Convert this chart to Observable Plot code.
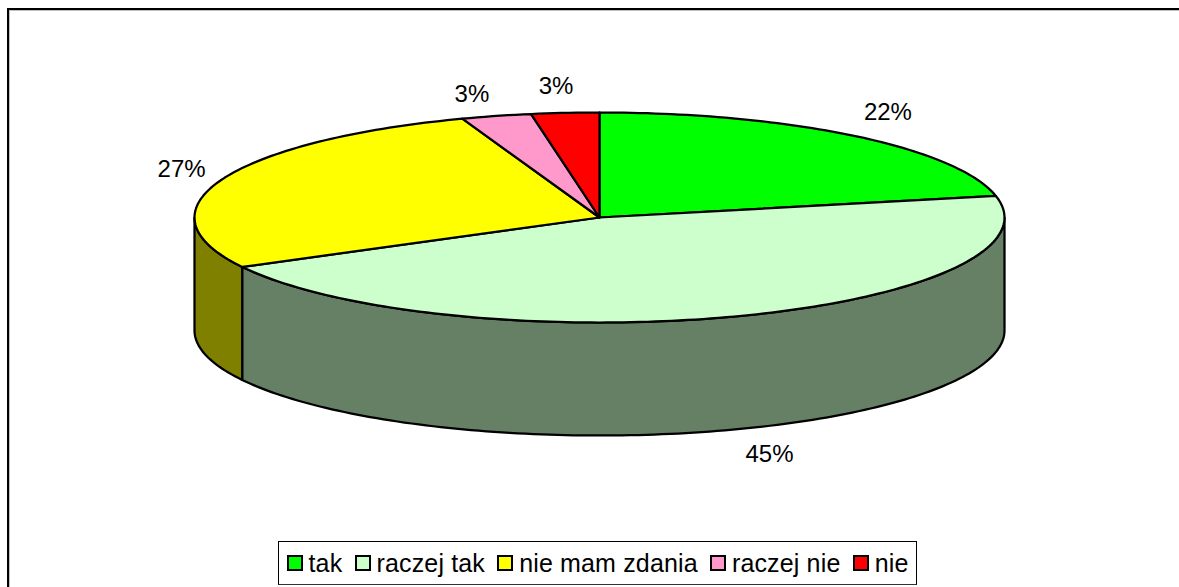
<!DOCTYPE html>
<html><head><meta charset="utf-8">
<script src="https://cdn.jsdelivr.net/npm/d3@7"></script>
<script src="https://cdn.jsdelivr.net/npm/@observablehq/plot@0.6"></script>
<style>
html,body{margin:0;padding:0;background:#fff;overflow:hidden}
#wrap{position:relative;width:1179px;height:587px;font-family:"Liberation Sans",Arial,sans-serif;overflow:hidden}
#frame{position:absolute;left:7px;top:8px;right:-4px;bottom:-4px;border:2px solid #000;box-sizing:border-box;box-shadow:inset 1px 1px 0 #c0c0c0}
#legend{position:absolute;left:278px;top:541px;width:639px;height:44px;box-sizing:border-box;border:1.5px solid #000;border-bottom-color:#333;background:#fff;
 display:flex;align-items:center;font-size:25px;letter-spacing:.15px;color:#000;white-space:pre;padding-left:7.5px}
#legend .sw{display:inline-block;width:16px;height:16px;border:2px solid #000;box-sizing:border-box;margin-right:6px}
#legend .it{display:flex;align-items:center;margin-right:12.2px}
</style></head><body><div id="wrap"><div id="chart"></div><div id="frame"></div><div id="legend"></div></div>
<script>
const categories = ["tak", "raczej tak", "nie mam zdania", "raczej nie", "nie"];
const shares = [21.7, 45.5, 27.3, 2.8, 2.7];
const labels = ["22%", "45%", "27%", "3%", "3%"];
const topColors = ["#00ff00", "#ccffcc", "#ffff00", "#ff99cc", "#ff0000"];
const sideColors = ["#008000", "#668066", "#808000", "#804c66", "#800000"];
const labelNudgeX = [0.012, 0.04, 0.005, -0.032, -0.013];
const labelNudgeY = [0.02, 0.01, 0, -0.048, -0.01];

// Unit pie: x in [-1,1] is the ellipse's half-width, y in [-1,1] its half-height.
const depth = 113 / 105;
const rad = p => p / 100 * 2 * Math.PI;
let acc = 0;
const slices = shares.map((s, i) => {
  const a0 = acc; acc += s;
  return {name: categories[i], a0: rad(a0), a1: rad(acc), i};
});
const arc = (a0, a1, dy = 0) => {
  const n = Math.max(2, Math.ceil((a1 - a0) / 0.02));
  return d3.range(n + 1).map(k => {
    const t = a0 + (a1 - a0) * k / n;
    return {x: Math.sin(t), y: Math.cos(t) - dy};
  });
};
const right = Math.PI / 2, left = 3 * Math.PI / 2;
const sides = slices.map(s => {
  const a0 = Math.max(s.a0, right), a1 = Math.min(s.a1, left);
  return a1 > a0 ? {...s, pts: [...arc(a0, a1), ...arc(a0, a1, depth).reverse()]} : null;
}).filter(Boolean);
const tops = slices.map(s => ({...s, pts: [{x: 0, y: 0}, ...arc(s.a0, s.a1)]}));
const labelData = slices.map(s => {
  const m = (s.a0 + s.a1) / 2;
  const extra = Math.cos(m) < -0.5 ? depth : 0;
  return {
    x: Math.sin(m) * 450 / 405 + labelNudgeX[s.i],
    y: Math.cos(m) * 133 / 105 - extra + labelNudgeY[s.i],
    text: labels[s.i]
  };
});

const poly = (s, fill) => Plot.line(s.pts, {x: "x", y: "y", fill, stroke: "#000", strokeWidth: 2.25,
  curve: "linear-closed", strokeLinejoin: "round"});

const plot = Plot.plot({
  width: 1179, height: 587, margin: 0,
  x: {domain: [-1, 1], range: [194, 1004], axis: null},
  y: {domain: [1, -1], range: [112, 322], axis: null},
  marks: [
    ...sides.map(s => poly(s, sideColors[s.i])),
    ...tops.map(s => poly(s, topColors[s.i])),
    Plot.text(labelData, {x: "x", y: "y", text: "text", fontSize: 24, fill: "#000",
      fontFamily: "Liberation Sans, Arial, sans-serif"})
  ]
});
plot.style.background = "transparent";
document.getElementById("chart").append(plot);

const legend = document.getElementById("legend");
categories.forEach((c, i) => {
  const it = document.createElement("span"); it.className = "it";
  const sw = document.createElement("span"); sw.className = "sw"; sw.style.background = topColors[i];
  it.append(sw, document.createTextNode(c));
  legend.append(it);
});
</script></body></html>
